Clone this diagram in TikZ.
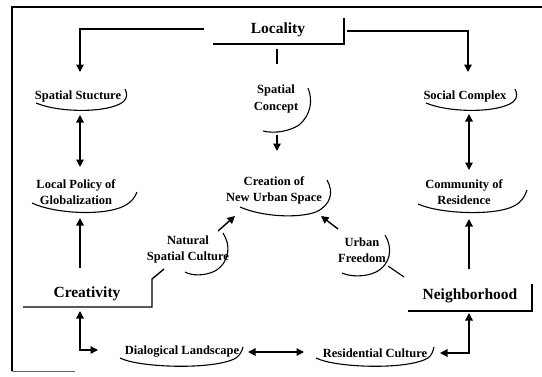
\documentclass[tikz,border=0pt]{standalone}
\usepackage{fontspec}
\setmainfont{Liberation Serif}
\usetikzlibrary{arrows.meta}
\begin{document}
\begin{tikzpicture}[x=1pt,y=-1pt,line width=1.4pt,
  lbl/.style={font=\bfseries\fontsize{12.5}{16}\selectfont,align=center,inner sep=0pt},
  big/.style={font=\bfseries\fontsize{15.5}{17}\selectfont,inner sep=0pt},
  arr/.style={-{Triangle[length=7.5pt,width=7.5pt]}},
  dbl/.style={{Triangle[length=7.5pt,width=7.5pt]}-{Triangle[length=7.5pt,width=7.5pt]}},
  cur/.style={line width=1.1pt},
  frame/.style={line width=1.3pt}]
\useasboundingbox (0,0) rectangle (542,376);
% frame
\draw[frame] (542,7) -- (12,7) -- (12,371);
\draw[line width=1pt,black!60] (12,371) -- (75,371);

% main nodes
\node[big] (loc) at (278,30) {Locality};
\node[big] (cre) at (87,294) {Creativity};
\node[big] (nei) at (470,296) {Neighborhood};

% labels
\node[lbl] (ss)  at (78,96)  {Spatial Stucture};
\node[lbl] (sc)  at (276,99) {Spatial\\[1pt]Concept};
\node[lbl] (soc) at (465,96) {Social Complex};
\node[lbl] (lp)  at (76,192) {Local Policy of\\Globalization};
\node[lbl] (cr)  at (274,190) {Creation of\\New Urban Space};
\node[lbl] (cm)  at (464,192) {Community of\\Residence};
\node[lbl] (nsc) at (188,249) {Natural\\Spatial Culture};
\node[lbl] (uf)  at (362,250) {Urban\\Freedom};
\node[lbl] (dl)  at (182,352) {Dialogical Landscape};
\node[lbl] (rc)  at (375,353) {Residential Culture};

% boxes (partial)
\draw (213,44) -- (344,44) -- (344,18);
\draw (277,49) -- (277,64);
\draw (23,307) -- (152,307) -- (152,279) -- (164,269);
\draw (408,311) -- (532,311) -- (532,284);
\draw[cur] (388,266) -- (404,277);

% connector end points
\coordinate (locL) at (204,29);
\coordinate (locR) at (347,31);
\coordinate (ssT) at (80,72);
\coordinate (socT) at (468,72);
\coordinate (ssB) at (80,115);
\coordinate (lpT) at (80,167);
\coordinate (socB) at (469,114);
\coordinate (cmT) at (469,170);
\coordinate (creT) at (80,268);
\coordinate (lpB) at (80,218);
\coordinate (neiT) at (469,269);
\coordinate (cmB) at (469,219);
\coordinate (scB) at (277,135);
\coordinate (crT) at (277,151);
\coordinate (nscA) at (218,231);
\coordinate (crL) at (235,216);
\coordinate (ufA) at (338,229);
\coordinate (crR) at (321,216);
\coordinate (creB) at (80,311);
\coordinate (dlL) at (98,350);
\coordinate (dlR) at (248,352);
\coordinate (rcL) at (304,352);
\coordinate (neiB) at (469,313);
\coordinate (rcR) at (440,353);

% connectors
\draw[arr] (locL) -| (ssT);
\draw[arr] (locR) -| (socT);
\draw[dbl] (ssB) -- (lpT);
\draw[dbl] (socB) -- (cmT);
\draw[arr] (creT) -- (lpB);
\draw[arr] (neiT) -- (cmB);
\draw[arr] (scB) -- (crT);
\draw[arr] (nscA) -- (crL);
\draw[arr] (ufA) -- (crR);
\draw[dbl] (creB) |- (dlL);
\draw[dbl] (dlR) -- (rcL);
\draw[dbl] (neiB) |- (rcR);

% decorative curves
\draw[cur] (36,103) .. controls (60,113) and (108,113) .. (123,102) .. controls (128,98) and (127,93) .. (125,89);
\draw[cur] (426,103) .. controls (450,113) and (498,113) .. (513,102) .. controls (518,98) and (517,93) .. (515,89);
\draw[cur] (32,203) .. controls (55,214) and (105,216) .. (124,206) .. controls (132,202) and (135,197) .. (137,192);
\draw[cur] (418,204) .. controls (440,214) and (495,216) .. (514,206) .. controls (522,202) and (525,196) .. (527,190);
\draw[cur] (308,88) .. controls (313,100) and (311,115) .. (299,125) .. controls (290,131) and (275,134) .. (263,131);
\draw[cur] (327,180) .. controls (334,192) and (331,205) .. (316,212) .. controls (296,219) and (260,216) .. (240,207);
\draw[cur] (223,233) .. controls (231,245) and (230,262) .. (215,271) .. controls (205,276) and (192,276) .. (185,272);
\draw[cur] (385,235) .. controls (393,248) and (391,264) .. (376,272) .. controls (366,277) and (351,277) .. (342,273);
\draw[cur] (120,358) .. controls (140,368) and (215,370) .. (236,358) .. controls (240,355) and (242,351) .. (243,347);
\draw[cur] (316,358) .. controls (336,368) and (408,370) .. (428,358) .. controls (432,355) and (433,351) .. (434,347);
\end{tikzpicture}
\end{document}
